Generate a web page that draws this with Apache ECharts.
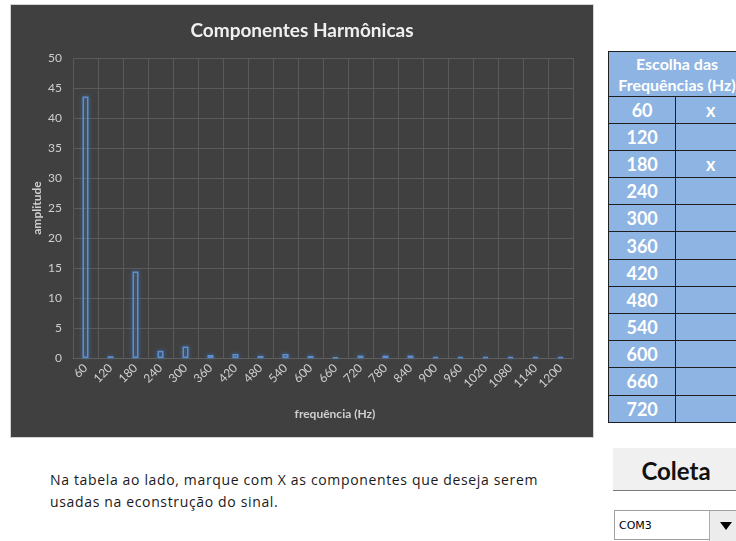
<!DOCTYPE html>
<html>
<head>
<meta charset="utf-8">
<script src="https://cdn.jsdelivr.net/npm/echarts@6/dist/echarts.min.js"></script>
<style>
  html, body { margin: 0; padding: 0; background: #fff; width: 736px; height: 541px; overflow: hidden; position: relative; font-family: Lato, 'Open Sans', sans-serif; }
  #chart { position: absolute; left: 10px; top: 4px; width: 582px; height: 432px; border: 1px solid #d4d4d4; background: #404040; }
  #tabela { position: absolute; left: 608px; top: 51px; border-collapse: collapse; }
  #tabela tr { height: 27.2px; }
  #tabela tr.head { height: 44.5px; }
  #tabela td { background: #8db4e2; border: 1.5px solid #1f1f1f; color: #fff; font-weight: bold; text-align: center; padding: 0; font-size: 18px; line-height: 18px; }
  #tabela td.head { font-size: 16px; line-height: 21px; text-align: left; }
  #tabela td.head div { width: 136px; text-align: center; white-space: nowrap; }
  #texto { position: absolute; left: 50px; top: 469px; font-size: 14px; letter-spacing: 0.65px; line-height: 22px; color: #1a1a1a; font-family: 'Open Sans', sans-serif; }
  #coleta { position: absolute; left: 613px; top: 448px; width: 140px; height: 43px; background: #f0f0f0; border-bottom: 1.5px solid #7a7a7a; font-size: 24px; font-weight: bold; text-align: center; line-height: 46px; color: #111; box-sizing: border-box; padding-right: 14px; }
  #combo { position: absolute; left: 614px; top: 510px; width: 130px; height: 30px; border: 1px solid #a0a0a0; background: #fff; box-sizing: border-box; }
  #combo span { position: absolute; left: 4px; top: 8px; font-size: 11px; font-family: 'DejaVu Sans', sans-serif; color: #000; }
  #combo .seta { position: absolute; left: 94px; top: 0; width: 36px; height: 30px; background: #ececec; border-left: 1px solid #b0b0b0; }
  #combo .seta:after { content: ''; position: absolute; left: 10px; top: 11px; border-left: 6px solid transparent; border-right: 6px solid transparent; border-top: 8px solid #000; }
</style>
</head>
<body>
<div id="chart"></div>
<table id="tabela"></table>
<div id="texto">Na tabela ao lado, marque com X as componentes que deseja serem<br>usadas na econstrução do sinal.</div>
<div id="coleta">Coleta</div>
<div id="combo"><span>COM3</span><div class="seta"></div></div>
<script>
const freqs = ['60', '120', '180', '240', '300', '360', '420', '480', '540', '600',
  '660', '720', '780', '840', '900', '960', '1020', '1080', '1140', '1200'];
const amps = [43.6, 0.3, 14.4, 1.2, 1.9, 0.5, 0.65, 0.35, 0.65, 0.35,
  0.12, 0.4, 0.4, 0.4, 0.15, 0.15, 0.15, 0.15, 0.15, 0.15];

const tableFreqs = [60, 120, 180, 240, 300, 360, 420, 480, 540, 600, 660, 720];
const tableMarks = ['x', '', 'x', '', '', '', '', '', '', '', '', ''];

// tabela de escolha
var html = '<tr class="head"><td class="head" colspan="2"><div>Escolha das<br>Frequências (Hz)</div></td></tr>';
tableFreqs.forEach((f, i) => {
  html += '<tr><td style="width:74px">' + f + '</td><td style="width:82px">' + tableMarks[i] + '</td></tr>';
});
document.getElementById('tabela').innerHTML = html;

var chart = echarts.init(document.getElementById('chart'));
const labelColor = '#cfcfcf';
chart.setOption({
  animation: false,
  title: {
    text: 'Componentes Harmônicas',
    left: 'center',
    top: 11,
    textStyle: { color: '#f0f0f0', fontSize: 19, fontWeight: 'bold', fontFamily: 'Lato' },
  },
  grid: { left: 62, top: 53, width: 500, height: 300 },
  xAxis: {
    type: 'category',
    data: freqs,
    name: 'frequência (Hz)',
    nameLocation: 'middle',
    nameGap: 50,
    nameTextStyle: { color: labelColor, fontSize: 12, fontWeight: 'bold', fontFamily: 'Lato', padding: [0, 0, 0, 24] },
    axisLine: { show: true, lineStyle: { color: '#5f5f5f', width: 1 } },
    axisTick: { show: false },
    splitLine: { show: true, lineStyle: { color: '#5a5a5a', width: 1 } },
    axisLabel: { color: labelColor, fontSize: 12, rotate: 45, margin: 8, interval: 0, fontFamily: 'Lato' },
  },
  yAxis: {
    type: 'value',
    min: 0,
    max: 50,
    interval: 5,
    name: 'amplitude',
    nameLocation: 'middle',
    nameGap: 30,
    nameMoveOverlap: false,
    nameTextStyle: { color: labelColor, fontSize: 12, fontWeight: 'bold', fontFamily: 'Lato' },
    axisLine: { show: false },
    axisTick: { show: false },
    splitLine: { show: true, lineStyle: { color: '#5a5a5a', width: 1 } },
    axisLabel: { color: labelColor, fontSize: 12, margin: 11, fontFamily: 'Lato' },
  },
  series: [
    {
      type: 'bar',
      data: amps,
      barWidth: 6,
      itemStyle: {
        color: 'rgba(0,0,0,0)',
        borderColor: '#5b8fd0',
        borderWidth: 1.5,
        shadowBlur: 4,
        shadowColor: 'rgba(70,130,210,0.8)',
      },
    },
  ],
});
</script>
</body>
</html>
